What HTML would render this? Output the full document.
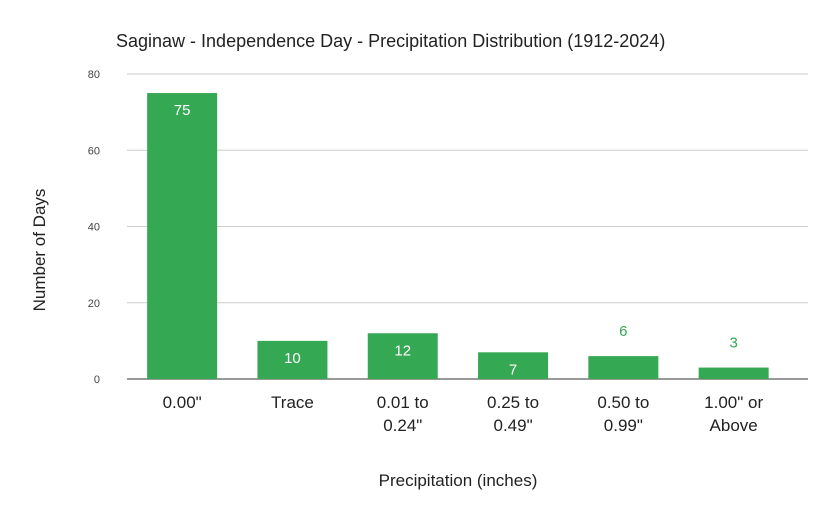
<!DOCTYPE html>
<html><head><meta charset="utf-8"><style>
body{margin:0;background:#fff}
svg{display:block;font-family:"Liberation Sans",Arial,sans-serif}
</style></head><body>
<svg id="chart" width="835" height="517">
<rect width="835" height="517" fill="#fff"/>
<text x="116" y="47" font-size="18" fill="#222">Saginaw - Independence Day - Precipitation Distribution (1912-2024)</text>
<g id="grid"></g>
<g id="bars"></g>
<text transform="translate(45,250) rotate(-90)" text-anchor="middle" font-size="17" fill="#222">Number of Days</text>
<text x="458" y="486" text-anchor="middle" font-size="17" fill="#222">Precipitation (inches)</text>
</svg>
<script>
const categories=[['0.00"'],['Trace'],['0.01 to','0.24"'],['0.25 to','0.49"'],['0.50 to','0.99"'],['1.00" or','Above']];
const values=[75,10,12,7,6,3];
const yTicks=[0,20,40,60,80];
const NS='http://www.w3.org/2000/svg';
const y0=379,yTop=74,yMax=80,x0=127,band=110.3,bw=70;
const y=v=>y0-(v/yMax)*(y0-yTop);
const xc=i=>x0+band*(i+0.5);
const grid=document.getElementById('grid'),bars=document.getElementById('bars');
function mk(t,a,p){const e=document.createElementNS(NS,t);for(const k in a)e.setAttribute(k,a[k]);p.appendChild(e);return e;}
yTicks.forEach(t=>{
 const l=mk('line',{x1:127,x2:808,y1:y(t),y2:y(t),stroke:t===0?'#333':'#ccc','stroke-width':1},grid);
 
 
 const tx=mk('text',{x:100,y:y(t)+4,'text-anchor':'end','font-size':11,fill:'#444'},grid);
 tx.textContent=t;
 
 
});
values.forEach((v,i)=>{
 const r=mk('rect',{x:xc(i)-bw/2,y:y(v),width:bw,height:y0-y(v),fill:'#34a853'},bars);
 
 
 const inside=(y0-y(v))>25;
 const t=mk('text',{x:xc(i),y:inside?y(v)+22:y(v)-20,'text-anchor':'middle','font-size':15,fill:inside?'#fff':'#34a853'},bars);
 t.textContent=v;
 
 
 categories[i].forEach((s,j)=>{
  const c=mk('text',{x:xc(i),y:408+j*23,'text-anchor':'middle','font-size':17,fill:'#222'},bars);
  c.textContent=s;
  
  
 });
});
</script>
</body></html>
